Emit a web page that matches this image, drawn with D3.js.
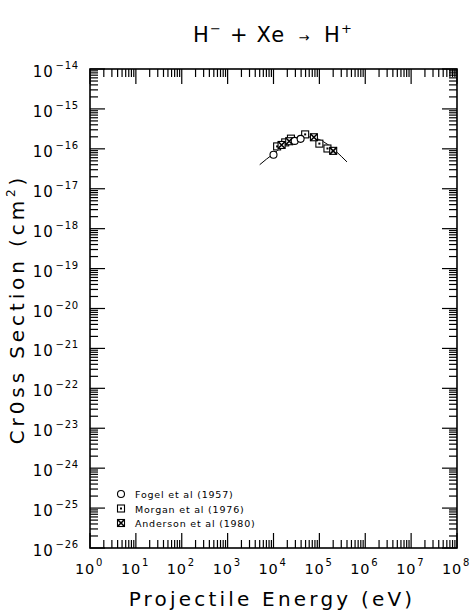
<!DOCTYPE html>
<html>
<head>
<meta charset="utf-8">
<script src="https://cdn.jsdelivr.net/npm/d3@7"></script>
<style>
  body { margin: 0; background: #fff; }
  text { font-family: "DejaVu Sans", sans-serif; fill: #000; }
</style>
</head>
<body>
<svg id="chart" width="470" height="610"></svg>
<script>
'use strict';

// ── Data ──────────────────────────────────────────────────────────────────
const xDecades = [0, 1, 2, 3, 4, 5, 6, 7, 8];
const yDecades = [-26, -25, -24, -23, -22, -21, -20, -19, -18, -17, -16, -15, -14];

const fogelE   = [1.0e4, 2.9e4, 3.9e4];
const fogelS   = [7.1e-17, 1.58e-16, 1.78e-16];

const morganE  = [1.2e4, 1.8e4, 2.4e4, 4.9e4, 1.0e5, 1.5e5];
const morganS  = [1.15e-16, 1.45e-16, 1.8e-16, 2.3e-16, 1.35e-16, 1.02e-16];

const andersonE = [1.5e4, 2.2e4, 7.6e4, 2.0e5];
const andersonS = [1.25e-16, 1.55e-16, 1.95e-16, 8.9e-17];

const fitE = [5e3, 7e3, 1e4, 1.5e4, 2e4, 3e4, 5e4, 7e4, 1e5, 1.5e5, 2e5, 3e5, 4e5];
const fitS = [4e-17, 5.5e-17, 7.5e-17, 1.1e-16, 1.4e-16, 1.75e-16, 2.0e-16, 1.95e-16,
              1.7e-16, 1.3e-16, 1.0e-16, 6.5e-17, 4.7e-17];

const legendLabels = ['Fogel et al (1957)', 'Morgan et al (1976)', 'Anderson et al (1980)'];

// ── Layout ────────────────────────────────────────────────────────────────
const L = 90, R = 457, T = 69, B = 548;
const svg = d3.select('#chart');

const x = d3.scaleLog().domain([1, 1e8]).range([L, R]);
const y = d3.scaleLog().domain([1e-26, 1e-14]).range([B, T]);

// ── Ticks (inward on all four sides) ──────────────────────────────────────
const MAJ = 15, MIN = 8;
const xMinor = [], yMinor = [];
xDecades.slice(0, -1).forEach(d => { for (let k = 2; k <= 9; k++) xMinor.push(k * Math.pow(10, d)); });
yDecades.slice(0, -1).forEach(d => { for (let k = 2; k <= 9; k++) yMinor.push(k * Math.pow(10, d)); });

const tk = svg.append('g').attr('stroke', '#000').attr('stroke-width', 1.2);

xMinor.forEach(v => {
  tk.append('line').attr('x1', x(v)).attr('x2', x(v)).attr('y1', B).attr('y2', B - MIN);
  tk.append('line').attr('x1', x(v)).attr('x2', x(v)).attr('y1', T).attr('y2', T + MIN);
});
xDecades.forEach(d => {
  const v = Math.pow(10, d);
  tk.append('line').attr('x1', x(v)).attr('x2', x(v)).attr('y1', B).attr('y2', B - MAJ);
  tk.append('line').attr('x1', x(v)).attr('x2', x(v)).attr('y1', T).attr('y2', T + MAJ);
});
yMinor.forEach(v => {
  tk.append('line').attr('x1', L).attr('x2', L + MIN).attr('y1', y(v)).attr('y2', y(v));
  tk.append('line').attr('x1', R).attr('x2', R - MIN).attr('y1', y(v)).attr('y2', y(v));
});
yDecades.forEach(d => {
  const v = Math.pow(10, d);
  tk.append('line').attr('x1', L).attr('x2', L + MAJ).attr('y1', y(v)).attr('y2', y(v));
  tk.append('line').attr('x1', R).attr('x2', R - MAJ).attr('y1', y(v)).attr('y2', y(v));
});

// Frame
svg.append('rect')
  .attr('x', L).attr('y', T).attr('width', R - L).attr('height', B - T)
  .attr('fill', 'none').attr('stroke', '#000').attr('stroke-width', 1.6);

// ── Tick labels ───────────────────────────────────────────────────────────
xDecades.forEach(d => {
  const t = svg.append('text')
    .attr('x', x(Math.pow(10, d)) - 15).attr('y', 574)
    .attr('font-size', 14.5).attr('letter-spacing', 0.8);
  t.append('tspan').text('10');
  t.append('tspan').attr('font-size', 10).attr('dy', -8).attr('dx', 1).text(d);
});

yDecades.forEach(d => {
  const t = svg.append('text')
    .attr('x', 79).attr('y', y(Math.pow(10, d)) + 8)
    .attr('text-anchor', 'end')
    .attr('font-size', 15).attr('letter-spacing', 0.8);
  t.append('tspan').text('10');
  t.append('tspan').attr('font-size', 10).attr('dy', -8).attr('dx', 2).text('\u2212' + Math.abs(d));
});

// ── Fit curve ─────────────────────────────────────────────────────────────
const line = d3.line().x(d => x(d[0])).y(d => y(d[1])).curve(d3.curveMonotoneX);
svg.append('path')
  .datum(fitE.map((e, i) => [e, fitS[i]]))
  .attr('d', line)
  .attr('fill', 'none').attr('stroke', '#000').attr('stroke-width', 1);

// ── Markers ───────────────────────────────────────────────────────────────
function circleMark(g, cx, cy) {
  g.append('circle').attr('cx', cx).attr('cy', cy).attr('r', 3.5)
    .attr('fill', '#fff').attr('stroke', '#000').attr('stroke-width', 1.1);
}
function morganMark(g, cx, cy) {
  g.append('rect').attr('x', cx - 3.5).attr('y', cy - 3.5).attr('width', 7).attr('height', 7)
    .attr('fill', '#fff').attr('stroke', '#000').attr('stroke-width', 1.1);
  g.append('rect').attr('x', cx - 1).attr('y', cy - 1).attr('width', 2).attr('height', 2)
    .attr('fill', '#000');
}
function andersonMark(g, cx, cy) {
  g.append('rect').attr('x', cx - 3.5).attr('y', cy - 3.5).attr('width', 7).attr('height', 7)
    .attr('fill', '#fff').attr('stroke', '#000').attr('stroke-width', 1.1);
  g.append('path')
    .attr('d', `M${cx - 3.5},${cy - 3.5}L${cx + 3.5},${cy + 3.5}M${cx + 3.5},${cy - 3.5}L${cx - 3.5},${cy + 3.5}`)
    .attr('stroke', '#000').attr('stroke-width', 1.6);
}

const mk = svg.append('g');
morganE.forEach((e, i) => morganMark(mk, x(e), y(morganS[i])));
andersonE.forEach((e, i) => andersonMark(mk, x(e), y(andersonS[i])));
fogelE.forEach((e, i) => circleMark(mk, x(e), y(fogelS[i])));

// ── Legend ────────────────────────────────────────────────────────────────
const markFns = [circleMark, morganMark, andersonMark];
legendLabels.forEach((lab, i) => {
  const ly = 494 + i * 14.5;
  markFns[i](svg, 121, ly);
  svg.append('text')
    .attr('x', 135).attr('y', ly + 4)
    .attr('font-size', 9.5).attr('letter-spacing', 0.8)
    .text(lab);
});

// ── Titles ────────────────────────────────────────────────────────────────
const title = svg.append('text')
  .attr('x', 273).attr('y', 42)
  .attr('text-anchor', 'middle')
  .attr('font-size', 21).attr('letter-spacing', 1.2)
  .attr('xml:space', 'preserve');
title.append('tspan').text('H');
title.append('tspan').attr('font-size', 13).attr('dy', -9).text('\u2212');
title.append('tspan').attr('dy', 9).text(' + Xe ');
title.append('tspan').attr('font-size', 13).text(' \u2192 ');
title.append('tspan').text(' H');
title.append('tspan').attr('font-size', 13).attr('dy', -9).text('+');

svg.append('text')
  .attr('x', 272).attr('y', 606)
  .attr('text-anchor', 'middle')
  .attr('font-size', 20).attr('letter-spacing', 3.2)
  .attr('xml:space', 'preserve')
  .text('Projectile Energy (eV)');

const ylab = svg.append('text')
  .attr('transform', 'translate(24,309) rotate(-90)')
  .attr('text-anchor', 'middle')
  .attr('font-size', 20).attr('letter-spacing', 3.9)
  .attr('xml:space', 'preserve');
ylab.append('tspan').text('Cr0ss Section (cm');
ylab.append('tspan').attr('font-size', 12).attr('dy', -9).text('2');
ylab.append('tspan').attr('dy', 9).text(')');
</script>
</body>
</html>
